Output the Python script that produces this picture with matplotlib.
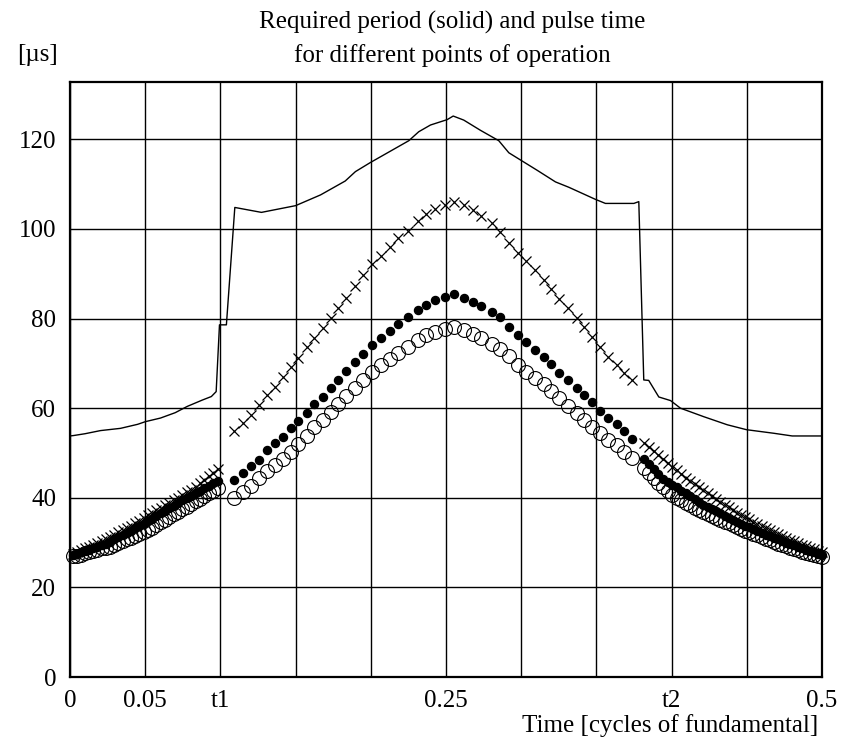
import matplotlib
matplotlib.use("Agg")
import matplotlib.pyplot as plt

plt.rcParams['font.family'] = ['Liberation Serif', 'DejaVu Serif']

# ---- solid line: required period ----
period_t = [0.000, 0.0025, 0.010, 0.0203, 0.0336, 0.045, 0.0502, 0.0602, 0.070, 0.078,
            0.0879, 0.094, 0.0972, 0.0994, 0.104, 0.1096, 0.1273, 0.150, 0.1666, 0.183,
            0.1898, 0.1996, 0.2253, 0.2319, 0.2397, 0.2508, 0.2548, 0.2618, 0.273, 0.2851,
            0.2918, 0.3106, 0.3228, 0.3317, 0.3494, 0.356, 0.3749, 0.3782, 0.3815, 0.3848,
            0.3915, 0.3993, 0.4059, 0.4214, 0.437, 0.4498, 0.468, 0.4802, 0.500]
period_v = [53.8, 53.9, 54.3, 55.0, 55.5, 56.4, 57.0, 57.8, 59.0, 60.4,
            61.8, 62.6, 63.7, 78.6, 78.6, 104.8, 103.7, 105.2, 107.6, 110.7,
            112.8, 114.8, 119.7, 121.7, 123.2, 124.4, 125.2, 124.3, 122.0, 119.7,
            117.0, 113.1, 110.5, 109.3, 106.6, 105.7, 105.7, 106.1, 66.3, 66.2,
            62.5, 61.7, 60.0, 58.1, 56.3, 55.2, 54.4, 53.8, 53.8]

# ---- pulse-time samples, section A (0 .. t1) ----
tA = [0.0020, 0.0047, 0.0074, 0.0101, 0.0128, 0.0155, 0.0182, 0.0210, 0.0238, 0.0266,
      0.0294, 0.0322, 0.0350, 0.0378, 0.0406, 0.0434, 0.0462, 0.0490, 0.0518, 0.0546,
      0.0574, 0.0603, 0.0632, 0.0661, 0.0690, 0.0719, 0.0748, 0.0777, 0.0806, 0.0835,
      0.0864, 0.0894, 0.0924, 0.0954, 0.0984]
crossA = [27.5, 27.9, 28.3, 28.7, 29.1, 29.5, 29.9, 30.4, 30.8, 31.3,
          31.8, 32.3, 32.8, 33.3, 33.8, 34.3, 34.9, 35.5, 36.1, 36.6,
          37.2, 37.8, 38.3, 38.9, 39.5, 40.0, 40.6, 41.2, 41.8, 42.5,
          43.2, 44.0, 44.8, 45.6, 46.5]
dotA = [27.2, 27.5, 27.8, 28.1, 28.4, 28.8, 29.1, 29.5, 29.8, 30.2,
        30.7, 31.2, 31.7, 32.2, 32.7, 33.2, 33.7, 34.2, 34.8, 35.3,
        35.9, 36.5, 37.1, 37.7, 38.2, 38.8, 39.4, 39.9, 40.5, 41.0,
        41.6, 42.2, 42.7, 43.3, 43.8]
circA = [26.9, 27.1, 27.3, 27.6, 27.9, 28.2, 28.4, 28.7, 28.9, 29.1,
         29.5, 29.9, 30.3, 30.7, 31.1, 31.5, 31.9, 32.3, 32.8, 33.3,
         33.9, 34.5, 35.1, 35.7, 36.3, 36.9, 37.5, 38.0, 38.6, 39.2,
         39.8, 40.4, 41.0, 41.6, 42.2]

# ---- section B (t1 .. t2) ----
tB = [0.1092, 0.1148, 0.1202, 0.1258, 0.1311, 0.1362, 0.1415, 0.1468, 0.1519, 0.1574,
      0.1625, 0.1679, 0.1734, 0.1783, 0.1836, 0.1895, 0.1950, 0.2011, 0.2066, 0.2125,
      0.2184, 0.2250, 0.2311, 0.2369, 0.2428, 0.2493, 0.2553, 0.2620, 0.2678, 0.2736,
      0.2803, 0.2860, 0.2921, 0.2977, 0.3034, 0.3092, 0.3152, 0.3199, 0.3254, 0.3312,
      0.3370, 0.3419, 0.3474, 0.3525, 0.3580, 0.3635, 0.3683, 0.3738]
crossB = [54.8, 56.6, 58.5, 60.7, 63.0, 64.8, 67.0, 69.1, 71.1, 73.6,
          75.6, 77.8, 80.1, 82.4, 84.7, 87.3, 89.7, 92.2, 94.0, 95.9,
          97.9, 99.6, 101.8, 103.3, 104.4, 105.3, 106.1, 105.3, 104.2, 102.9,
          101.4, 99.4, 96.8, 94.7, 92.8, 90.8, 88.5, 86.5, 84.3, 82.3,
          80.1, 78.1, 75.8, 73.6, 71.5, 69.6, 67.9, 66.2]
dotB = [44.0, 45.5, 47.0, 48.5, 50.7, 52.2, 53.6, 55.5, 57.2, 59.0,
        61.0, 62.6, 64.5, 66.3, 68.2, 70.4, 72.1, 74.1, 75.6, 77.3,
        78.8, 80.3, 82.0, 83.1, 84.1, 84.9, 85.5, 84.5, 83.8, 82.7,
        81.5, 80.3, 78.1, 76.3, 74.8, 73.0, 71.5, 69.9, 67.8, 66.2,
        64.5, 63.0, 61.3, 59.4, 57.9, 56.4, 54.9, 53.2]
circB = [39.9, 41.4, 42.7, 44.4, 46.0, 47.3, 48.6, 50.3, 52.0, 53.8,
         55.7, 57.4, 59.2, 61.0, 62.8, 64.6, 66.3, 68.1, 69.6, 70.9,
         72.3, 73.7, 75.3, 76.3, 77.1, 77.6, 78.1, 77.5, 76.5, 75.6,
         74.4, 73.3, 71.6, 69.6, 68.0, 66.8, 65.4, 63.8, 62.2, 60.5,
         58.9, 57.4, 55.9, 54.4, 53.0, 51.7, 50.3, 48.8]

# ---- section C (t2 .. 0.5) ----
tC = [0.3815, 0.3848, 0.3880, 0.3912, 0.3943, 0.3974, 0.4005, 0.4035, 0.4065, 0.4095,
      0.4124, 0.4153, 0.4182, 0.4211, 0.4240, 0.4268, 0.4296, 0.4324, 0.4352, 0.4380,
      0.4408, 0.4436, 0.4463, 0.4490, 0.4517, 0.4544, 0.4571, 0.4598, 0.4625, 0.4652,
      0.4679, 0.4706, 0.4733, 0.4760, 0.4787, 0.4814, 0.4841, 0.4868, 0.4895, 0.4922,
      0.4949, 0.4976, 0.5000]
crossC = [52.3, 51.3, 50.4, 49.5, 48.6, 47.7, 46.9, 46.1, 45.3, 44.5,
          43.8, 43.1, 42.4, 41.7, 41.0, 40.3, 39.7, 39.1, 38.5, 37.9,
          37.3, 36.7, 36.2, 35.7, 35.2, 34.7, 34.2, 33.7, 33.2, 32.8,
          32.3, 31.9, 31.5, 31.0, 30.6, 30.3, 29.9, 29.5, 29.2, 28.8,
          28.5, 28.2, 27.9]
dotC = [48.6, 47.6, 46.4, 45.2, 44.3, 43.6, 42.9, 42.3, 41.6, 41.0,
        40.4, 39.8, 39.1, 38.5, 38.0, 37.5, 37.0, 36.5, 36.0, 35.5,
        35.1, 34.6, 34.2, 33.8, 33.4, 33.0, 32.6, 32.2, 31.8, 31.4,
        31.0, 30.7, 30.3, 30.0, 29.7, 29.4, 29.0, 28.7, 28.4, 28.1,
        27.8, 27.5, 27.2]
circC = [46.6, 45.5, 44.5, 43.4, 42.4, 41.5, 40.7, 40.0, 39.4, 38.8,
         38.3, 37.8, 37.3, 36.8, 36.3, 35.9, 35.5, 35.1, 34.7, 34.3,
         33.9, 33.5, 33.1, 32.7, 32.4, 32.0, 31.6, 31.2, 30.9, 30.5,
         30.2, 29.8, 29.5, 29.2, 28.9, 28.6, 28.3, 28.0, 27.7, 27.5,
         27.2, 27.0, 26.8]

xgrid_pos = [0.0, 0.05, 0.1, 0.15, 0.2, 0.25, 0.3, 0.35, 0.4, 0.45, 0.5]
xgrid_lab = ['0', '0.05', 't1', '', '', '0.25', '', '', 't2', '', '0.5']
ytick_pos = [0, 20, 40, 60, 80, 100, 120]

fig = plt.figure(figsize=(8.41, 7.40), dpi=100)
ax = fig.add_axes([0.0832, 0.0851, 0.8942, 0.8041])

t_all = tA + tB + tC
cross_all = crossA + crossB + crossC
dot_all = dotA + dotB + dotC
circ_all = circA + circB + circC

ax.plot(period_t, period_v, color='black', lw=1.0, zorder=3)
ax.plot(t_all, circ_all, linestyle='none', marker='o', markersize=10,
        markerfacecolor='none', markeredgecolor='black', markeredgewidth=0.8,
        clip_on=False, zorder=4)
ax.plot(t_all, dot_all, linestyle='none', marker='o', markersize=5.8,
        markerfacecolor='black', markeredgecolor='black', clip_on=False, zorder=5)
ax.plot(t_all, cross_all, linestyle='none', marker='x', markersize=6.5,
        markeredgecolor='black', markeredgewidth=0.9, clip_on=False, zorder=5)

ax.set_xlim(0, 0.5)
ax.set_ylim(0, 132.8)
ax.set_xticks(xgrid_pos)
ax.set_xticklabels(xgrid_lab)
ax.set_yticks(ytick_pos)
ax.grid(True, color='black', linewidth=1.0)
ax.set_axisbelow(True)
ax.tick_params(length=0, labelsize=18)
ax.tick_params(axis='x', pad=9)
ax.tick_params(axis='y', pad=10)
for s in ax.spines.values():
    s.set_linewidth(1.6)

fig.text(0.5375, 0.969, 'Required period (solid) and pulse time', ha='center', va='center', fontsize=18)
fig.text(0.5375, 0.925, 'for different points of operation', ha='center', va='center', fontsize=18)
fig.text(0.045, 0.925, '[\u00b5s]', ha='center', va='center', fontsize=18)
fig.text(0.973, 0.019, 'Time [cycles of fundamental]', ha='right', va='center', fontsize=18)

fig.savefig('out.png', dpi=100)
